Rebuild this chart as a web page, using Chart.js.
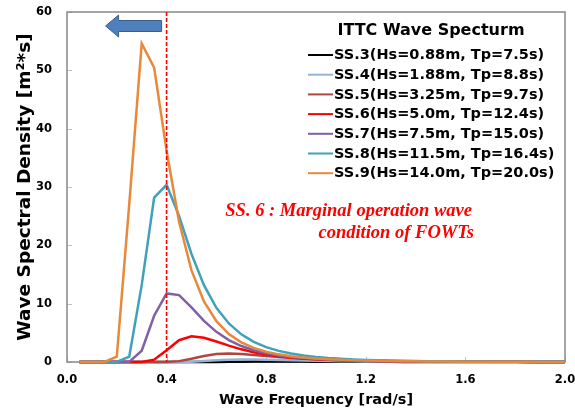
<!DOCTYPE html>
<html>
<head>
<meta charset="utf-8">
<script src="https://cdn.jsdelivr.net/npm/chart.js@4.4.1/dist/chart.umd.min.js"></script>
<style>
html,body{margin:0;padding:0;background:#fff;}
canvas{display:block;}
</style>
</head>
<body>
<canvas id="c" width="575" height="411"></canvas>
<script>
// Wave frequency samples [rad/s]
const freq = [0.05,0.10,0.15,0.20,0.25,0.30,0.35,0.40,0.45,0.50,0.55,0.60,0.65,0.70,0.75,0.80,0.85,0.90,0.95,1.00,1.05,1.10,1.15,1.20,1.25,1.30,1.35,1.40,1.45,1.50,1.55,1.60,1.65,1.70,1.75,1.80,1.85,1.90,1.95,2.00];

// Spectral density values [m^2*s]
const ss3 = [0,0,0,0,0,0,0,0,0,0,0,0.01,0.03,0.06,0.07,0.08,0.08,0.08,0.07,0.06,0.06,0.05,0.04,0.04,0.03,0.03,0.02,0.02,0.02,0.01,0.01,0.01,0.01,0.01,0.01,0.01,0.01,0,0,0];
const ss4 = [0,0,0,0,0,0,0,0,0.01,0.05,0.16,0.30,0.40,0.44,0.43,0.40,0.35,0.30,0.25,0.21,0.17,0.14,0.12,0.10,0.08,0.07,0.06,0.05,0.04,0.04,0.03,0.03,0.02,0.02,0.02,0.02,0.01,0.01,0.01,0.01];
const ss5 = [0,0,0,0,0,0,0,0.01,0.15,0.55,1.04,1.37,1.46,1.38,1.22,1.04,0.86,0.70,0.57,0.47,0.38,0.31,0.26,0.21,0.17,0.15,0.12,0.10,0.09,0.07,0.06,0.05,0.05,0.04,0.04,0.03,0.03,0.02,0.02,0.02];
const ss6 = [0,0,0,0,0,0.01,0.40,2.01,3.74,4.41,4.16,3.51,2.80,2.17,1.67,1.29,0.99,0.77,0.60,0.47,0.38,0.30,0.24,0.20,0.16,0.14,0.11,0.09,0.08,0.07,0.06,0.05,0.04,0.04,0.03,0.03,0.02,0.02,0.02,0.02];
const ss7 = [0,0,0,0,0.03,1.93,7.93,11.75,11.47,9.36,7.06,5.17,3.76,2.74,2.02,1.50,1.13,0.86,0.67,0.52,0.41,0.33,0.26,0.21,0.18,0.14,0.12,0.10,0.08,0.07,0.06,0.05,0.04,0.04,0.03,0.03,0.02,0.02,0.02,0.02];
const ss8 = [0,0,0,0,0.93,13.18,28.17,30.37,25.02,18.52,13.18,9.30,6.60,4.74,3.45,2.54,1.91,1.45,1.11,0.87,0.68,0.54,0.44,0.35,0.29,0.24,0.20,0.16,0.14,0.12,0.10,0.08,0.07,0.06,0.05,0.05,0.04,0.04,0.03,0.03];
const ss9 = [0,0,0,0.93,27.05,54.61,50.46,36.21,24.03,15.71,10.38,6.99,4.80,3.37,2.42,1.77,1.31,0.99,0.76,0.59,0.46,0.37,0.30,0.24,0.20,0.16,0.13,0.11,0.09,0.08,0.07,0.06,0.05,0.04,0.04,0.03,0.03,0.02,0.02,0.02];

const seriesLabels = [
  'SS.3(Hs=0.88m, Tp=7.5s)',
  'SS.4(Hs=1.88m, Tp=8.8s)',
  'SS.5(Hs=3.25m, Tp=9.7s)',
  'SS.6(Hs=5.0m, Tp=12.4s)',
  'SS.7(Hs=7.5m, Tp=15.0s)',
  'SS.8(Hs=11.5m, Tp=16.4s)',
  'SS.9(Hs=14.0m, Tp=20.0s)'
];
const seriesValues = [ss3, ss4, ss5, ss6, ss7, ss8, ss9];
const seriesColors = ['#000000','#95b3d7','#b0463f','#ff0000','#7f60a6','#3fa2ba','#e8893a'];

const xTicks = [0.0, 0.4, 0.8, 1.2, 1.6, 2.0];
const yTicks = [0, 10, 20, 30, 40, 50, 60];
const marginalFreq = 0.4;
const legendTitle = 'ITTC Wave Specturm';
const noteLines = ['SS. 6 : Marginal operation wave', 'condition of FOWTs'];

const FONT = "'DejaVu Sans', sans-serif";

const datasets = seriesValues.map((vals, i) => ({
  label: seriesLabels[i],
  data: freq.map((f, k) => ({x: f, y: vals[k]})),
  borderColor: seriesColors[i],
  backgroundColor: seriesColors[i],
  borderWidth: 2.5,
  pointRadius: 0,
  tension: 0,
  fill: false,
  clip: false,
  order: seriesValues.length - 1 - i
}));

const decorPlugin = {
  id: 'decor',
  beforeDatasetsDraw(chart) {
    const {ctx, chartArea: a, scales: {x, y}} = chart;
    ctx.save();
    ctx.strokeStyle = '#c0c0c0';
    ctx.lineWidth = 1;
    yTicks.forEach(v => {
      const py = Math.round(y.getPixelForValue(v)) + 0.5;
      ctx.beginPath(); ctx.moveTo(a.left, py); ctx.lineTo(a.left + 5, py); ctx.stroke();
    });
    xTicks.forEach(v => {
      const px = Math.round(x.getPixelForValue(v)) + 0.5;
      ctx.beginPath(); ctx.moveTo(px, a.bottom); ctx.lineTo(px, a.bottom - 5); ctx.stroke();
    });
    ctx.strokeStyle = '#888888';
    ctx.lineWidth = 1.5;
    ctx.strokeRect(a.left, a.top, a.right - a.left, a.bottom - a.top);
    ctx.restore();
  },
  afterDatasetsDraw(chart) {
    const {ctx, chartArea: a, scales: {x, y}} = chart;
    ctx.save();
    const px = x.getPixelForValue(marginalFreq);
    ctx.strokeStyle = '#ff0000';
    ctx.lineWidth = 1.6;
    ctx.setLineDash([4, 2]);
    ctx.beginPath(); ctx.moveTo(px, a.top); ctx.lineTo(px, a.bottom); ctx.stroke();
    ctx.setLineDash([]);

    const right = px - 5, tip = px - 61, head = px - 48;
    const cy = a.top + 14;
    ctx.beginPath();
    ctx.moveTo(right, cy - 5.5);
    ctx.lineTo(head, cy - 5.5);
    ctx.lineTo(head, cy - 11);
    ctx.lineTo(tip, cy);
    ctx.lineTo(head, cy + 11);
    ctx.lineTo(head, cy + 5.5);
    ctx.lineTo(right, cy + 5.5);
    ctx.closePath();
    ctx.fillStyle = '#4f7fbc';
    ctx.fill();
    ctx.strokeStyle = '#3a5f8c';
    ctx.lineWidth = 1;
    ctx.stroke();

    ctx.fillStyle = '#000';
    ctx.font = "bold 16px " + FONT;
    ctx.textAlign = 'center';
    ctx.textBaseline = 'middle';
    ctx.fillText(legendTitle, 431, 31);
    ctx.font = "bold 14.5px " + FONT;
    ctx.textAlign = 'left';
    chart.data.datasets.forEach((ds, i) => {
      const ry = 55 + i * 19.7;
      ctx.strokeStyle = ds.borderColor;
      ctx.lineWidth = 2;
      ctx.beginPath(); ctx.moveTo(308, ry); ctx.lineTo(333, ry); ctx.stroke();
      ctx.fillStyle = '#000';
      ctx.fillText(ds.label, 334, ry + 0.5);
    });

    ctx.fillStyle = '#ff0000';
    ctx.font = "italic bold 18.5px 'Liberation Serif', 'Times New Roman', serif";
    ctx.textAlign = 'right';
    ctx.textBaseline = 'alphabetic';
    ctx.fillText(noteLines[0], 472, 216);
    ctx.fillText(noteLines[1], 474, 238);
    ctx.restore();
  }
};

new Chart(document.getElementById('c'), {
  type: 'line',
  data: {datasets},
  options: {
    responsive: false,
    animation: false,
    events: [],
    layout: {padding: {left: 0, right: 10, top: 12, bottom: 0}},
    plugins: {legend: {display: false}, tooltip: {enabled: false}},
    scales: {
      x: {
        type: 'linear',
        min: xTicks[0],
        max: xTicks[xTicks.length - 1],
        afterBuildTicks(scale) { scale.ticks = xTicks.map(v => ({value: v})); },
        afterFit(scale) { scale.height = 49; scale.paddingLeft = 0; scale.paddingRight = 0; },
        grid: {display: false, drawTicks: false},
        border: {display: false},
        ticks: {
          padding: 11,
          color: '#000',
          font: {family: FONT, size: 11.5, weight: 'bold'},
          maxRotation: 0,
          callback: v => Number(v).toFixed(1)
        },
        title: {
          display: true,
          text: 'Wave Frequency [rad/s]',
          color: '#000',
          font: {family: FONT, size: 14.5, weight: 'bold'},
          padding: {top: 0, bottom: 2}
        }
      },
      y: {
        type: 'linear',
        min: yTicks[0],
        max: yTicks[yTicks.length - 1],
        afterBuildTicks(scale) { scale.ticks = yTicks.map(v => ({value: v})); },
        afterFit(scale) { scale.width = 67; scale.paddingTop = 0; scale.paddingBottom = 0; },
        grid: {display: false, drawTicks: false},
        border: {display: false},
        ticks: {
          padding: 15,
          color: '#000',
          font: {family: FONT, size: 11.5, weight: 'bold'},
          callback: v => String(v)
        },
        title: {
          display: true,
          text: 'Wave Spectral Density [m²*s]',
          color: '#000',
          font: {family: FONT, size: 18.5, weight: 'bold'},
          padding: {top: 14, bottom: 0}
        }
      }
    }
  },
  plugins: [decorPlugin]
});
</script>
</body>
</html>
